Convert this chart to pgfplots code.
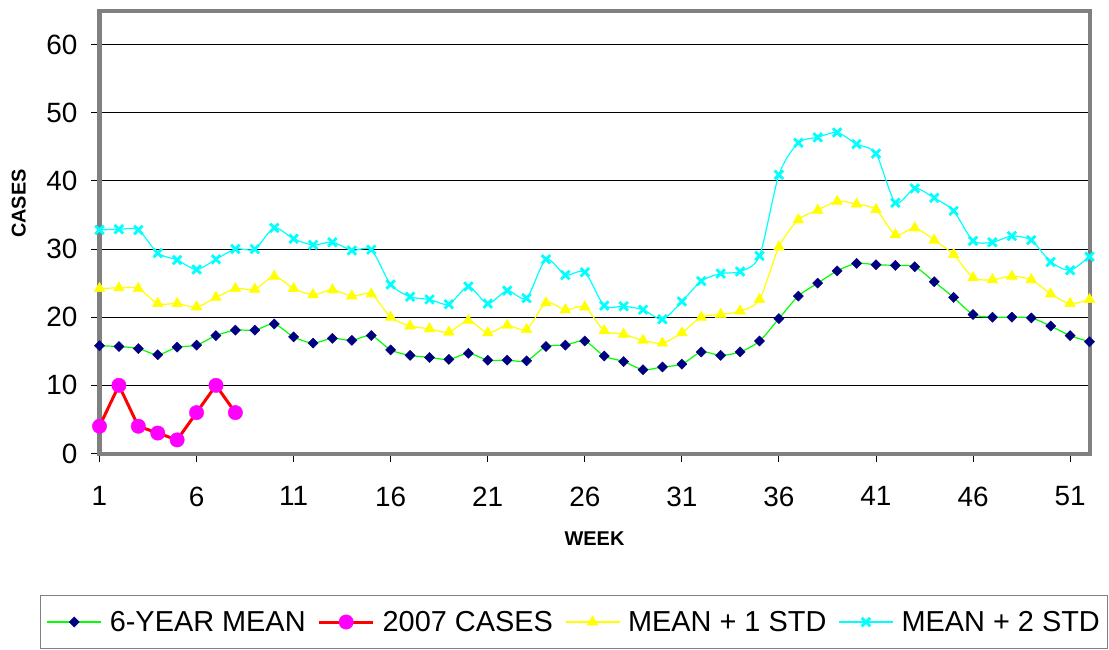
\documentclass[border=0pt]{standalone}
\usepackage{pgfplots}
\pgfplotsset{compat=1.18}
\usepackage{pgfplotstable}
\usepackage{fontspec}
\setmainfont{Liberation Sans}
\definecolor{navyblue}{HTML}{000080}
\definecolor{xlgreen}{HTML}{00FF00}
\definecolor{xlyellow}{HTML}{FFFF00}
\definecolor{xlcyan}{HTML}{00FFFF}
\definecolor{xlmagenta}{HTML}{FF00FF}
\definecolor{xlred}{HTML}{FF0000}
\definecolor{framegray}{HTML}{808080}

\pgfplotstableread{
w v
1 15.8
2 15.7
3 15.4
4 14.5
5 15.6
6 15.9
7 17.3
8 18.1
9 18.1
10 19.0
11 17.1
12 16.2
13 16.9
14 16.6
15 17.3
16 15.2
17 14.4
18 14.1
19 13.8
20 14.7
21 13.7
22 13.7
23 13.6
24 15.7
25 15.9
26 16.5
27 14.3
28 13.5
29 12.3
30 12.7
31 13.1
32 14.9
33 14.4
34 14.9
35 16.5
36 19.8
37 23.1
38 25.0
39 26.8
40 27.9
41 27.7
42 27.6
43 27.4
44 25.2
45 22.9
46 20.4
47 20.0
48 20.0
49 19.9
50 18.7
51 17.3
52 16.4
}\meandata

\pgfplotstableread{
w v
1 4
2 10
3 4
4 3
5 2
6 6
7 10
8 6
}\casesdata

\pgfplotstableread{
w v
1 24.2
2 24.3
3 24.2
4 22.0
5 22.0
6 21.5
7 22.9
8 24.2
9 24.1
10 26.0
11 24.2
12 23.3
13 24.0
14 23.1
15 23.4
16 20.0
17 18.7
18 18.3
19 17.8
20 19.5
21 17.7
22 18.8
23 18.2
24 22.1
25 21.1
26 21.5
27 18.0
28 17.5
29 16.6
30 16.2
31 17.7
32 20.0
33 20.4
34 20.9
35 22.6
36 30.3
37 34.3
38 35.7
39 37.0
40 36.6
41 35.8
42 32.1
43 33.1
44 31.3
45 29.2
46 25.8
47 25.5
48 26.0
49 25.5
50 23.4
51 22.0
52 22.6
}\plusone

\pgfplotstableread{
w v
1 32.8
2 32.9
3 32.8
4 29.4
5 28.4
6 27.0
7 28.5
8 30.0
9 30.0
10 33.1
11 31.5
12 30.6
13 31.0
14 29.8
15 29.9
16 24.8
17 23.0
18 22.6
19 21.9
20 24.5
21 22.0
22 23.9
23 22.8
24 28.5
25 26.2
26 26.6
27 21.7
28 21.6
29 21.1
30 19.7
31 22.3
32 25.3
33 26.4
34 26.7
35 29.0
36 40.9
37 45.6
38 46.4
39 47.1
40 45.4
41 44.0
42 36.8
43 38.9
44 37.5
45 35.6
46 31.2
47 31.0
48 31.9
49 31.3
50 28.1
51 26.9
52 28.9
}\plustwo

\begin{document}
\begin{tikzpicture}
\path[use as bounding box] (0,0) rectangle (1109bp,-650bp);
\begin{axis}[
  at={(99.5bp,-453.5bp)}, anchor=south west,
  width=990bp, height=443bp, scale only axis,
  xmin=1, xmax=52, ymin=0, ymax=65,
  xtick={1,6,...,51}, ytick={0,10,...,60},
  clip=false,
  axis line style={draw=framegray, line width=4bp},
  ymajorgrids, major grid style={black, line width=0.9bp},
  tick align=outside, major tick length=8bp,
  tick style={black, line width=0.9bp},
  xtick pos=left, ytick pos=left,
  /pgf/number format/assume math mode=true,
  tick label style={font=\fontsize{28}{28}\selectfont},
  xticklabel style={inner sep=0pt, anchor=north, yshift=-25bp},
  yticklabel style={inner sep=0pt, anchor=east, xshift=-14bp},
  xlabel={WEEK}, ylabel={CASES},
  xlabel style={font=\bfseries\fontsize{20}{20}\selectfont, at={(axis description cs:0.5,-0.192)}, anchor=center},
  ylabel style={font=\bfseries\fontsize{20}{20}\selectfont, at={(axis description cs:-0.0815,0.564)}, anchor=center},
  legend columns=4,
  legend cell align=left,
  legend style={at={(axis description cs:-0.0601,-0.3185)}, anchor=north west,
    draw=framegray, line width=1.2bp, font=\fontsize{29}{30}\selectfont,
    inner xsep=6bp, inner ysep=12bp,
    nodes={inner xsep=2bp, inner ysep=4bp},
    /tikz/every odd column/.append style={column sep=6bp},
    /tikz/every even column/.append style={column sep=10bp}},
  legend image code/.code={\draw[mark repeat=2,mark phase=2] plot coordinates {(0bp,0bp) (27bp,0bp) (54bp,0bp)};},
]
\addplot[color=xlgreen, line width=1.2bp, smooth, tension=0.45, mark=square*, mark size=3.6bp,
  mark options={rotate=45, fill=navyblue, draw=navyblue, line width=0.4bp}] table[x=w,y=v] {\meandata};
\addlegendentry{6-YEAR MEAN}
\addplot[color=xlred, line width=3bp, mark=*, mark size=7.2bp,
  mark options={fill=xlmagenta, draw=xlmagenta, line width=0.4bp}] table[x=w,y=v] {\casesdata};
\addlegendentry{2007 CASES}
\addplot[color=xlyellow, line width=1.2bp, smooth, tension=0.45, mark=triangle*, mark size=6.2bp,
  mark options={fill=xlyellow, draw=xlyellow, line width=0.4bp}] table[x=w,y=v] {\plusone};
\addlegendentry{MEAN + 1 STD}
\addplot[color=xlcyan, line width=1.2bp, smooth, tension=0.45, mark=x, mark size=6bp,
  mark options={draw=xlcyan, line width=2.8bp}] table[x=w,y=v] {\plustwo};
\addlegendentry{MEAN + 2 STD}
\end{axis}
\end{tikzpicture}
\end{document}
